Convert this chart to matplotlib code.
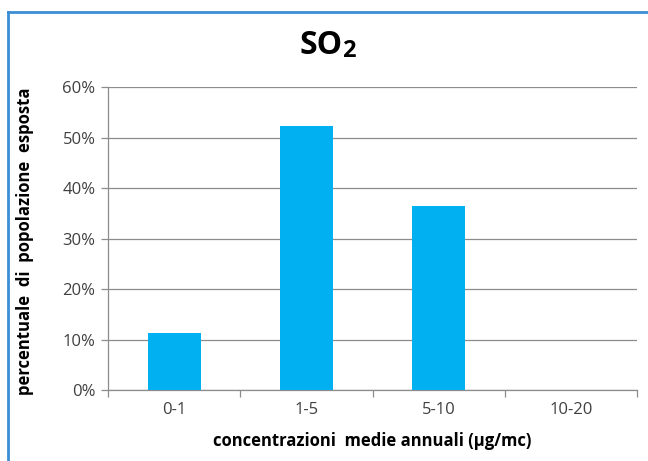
import matplotlib
matplotlib.use('Agg')
import matplotlib.pyplot as plt
from matplotlib.lines import Line2D
import numpy as np

plt.rcParams.update({
    'font.family': ['Open Sans', 'DejaVu Sans'],
    'axes.linewidth': 0.9,
})

categories = ['0-1', '1-5', '5-10', '10-20']
exposed_pct = [11.3, 52.3, 36.4, 0.0]
y_ticks = [0, 10, 20, 30, 40, 50, 60]

W, H = 648, 461
fig = plt.figure(figsize=(W / 100, H / 100), dpi=100)
ax = fig.add_axes([108 / W, 1 - 390 / H, (637 - 108) / W, (390 - 87) / H])

grid_col = '#8c8c8c'
x = np.arange(len(categories))
ax.bar(x, exposed_pct, width=0.4, color='#00B0F0', zorder=3)

ax.set_xlim(-0.5, len(categories) - 0.5)
ax.set_ylim(0, 60)
ax.set_yticks(y_ticks)
ax.set_yticklabels([f'{v}%' for v in y_ticks])
ax.yaxis.grid(True, color=grid_col, linewidth=0.9, zorder=0)

# category boundary ticks on the x axis, labels centred on bars
ax.set_xticks(np.arange(len(categories) + 1) - 0.5)
ax.set_xticklabels([])
ax.set_xticks(x, minor=True)
ax.set_xticklabels(categories, minor=True)
ax.tick_params(axis='x', which='minor', length=0, pad=9, labelsize=12, labelcolor='#404040')
ax.tick_params(axis='x', which='major', length=5, color=grid_col, width=0.9)
ax.tick_params(axis='y', length=5, color=grid_col, width=0.9, pad=4,
               labelsize=12, labelcolor='#404040')

for side in ['top', 'right']:
    ax.spines[side].set_visible(False)
for side in ['left', 'bottom']:
    ax.spines[side].set_color(grid_col)

ax.set_xlabel('concentrazioni  medie annuali (µg/mc)', fontsize=12,
              fontweight='bold', va='center')
ax.xaxis.set_label_coords(0.5, -0.168)
ax.set_ylabel('percentuale  di  popolazione  esposta', fontsize=12,
              fontweight='bold')
ax.yaxis.set_label_coords(-0.14, 0.49)

# title with a smaller, slightly lowered "2"
t = fig.text(321 / W, 1 - 46 / H, 'SO', fontsize=23, fontweight='bold',
             ha='center', va='center')
fig.canvas.draw()
bb = t.get_window_extent()
fig.text((bb.x1 - 1) / W, bb.y0 / H - 0.002, '2', fontsize=17, fontweight='bold',
         ha='left', va='bottom')

# outer blue frame
frame_col = '#3b8ed6'
fig.add_artist(Line2D([8 / W, 8 / W], [0, 1 - 12 / H], transform=fig.transFigure,
                      color=frame_col, linewidth=2))
fig.add_artist(Line2D([8 / W, 1], [1 - 12 / H, 1 - 12 / H], transform=fig.transFigure,
                      color=frame_col, linewidth=2))

fig.savefig('out.png', dpi=100)
